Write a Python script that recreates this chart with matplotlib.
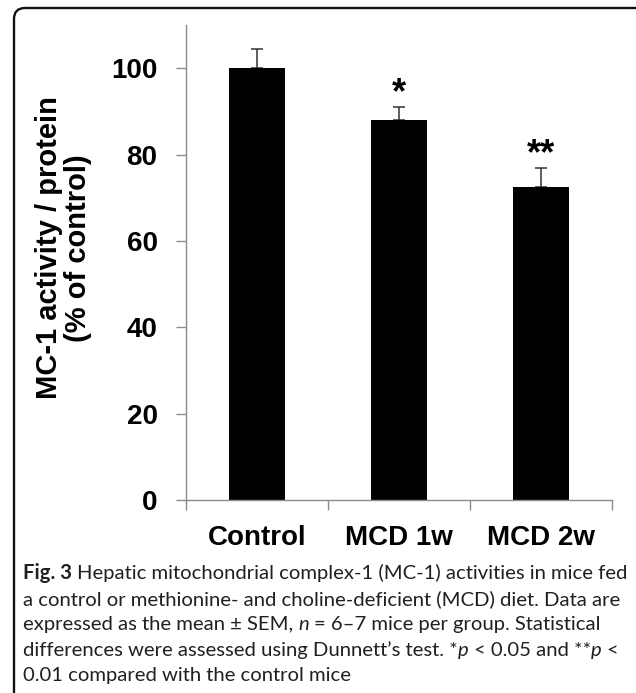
import numpy as np
import matplotlib
matplotlib.use('Agg')
import matplotlib.pyplot as plt
from matplotlib.patches import FancyBboxPatch

# Data
groups = ['Control', 'MCD 1w', 'MCD 2w']
activity = [100.0, 88.0, 72.5]
sem = [4.5, 2.9, 4.4]
stars = ['', '*', '**']

W, H = 636, 693
fig = plt.figure(figsize=(W / 100, H / 100), dpi=100)
plt.rcParams['font.family'] = ['Liberation Sans', 'DejaVu Sans']

# rounded frame around the figure (top and left edges visible)
frame = FancyBboxPatch((0.14, -0.3), 6.55, 6.85 + 0.3,
                       boxstyle='round,pad=0,rounding_size=0.11',
                       transform=fig.dpi_scale_trans, fill=False,
                       edgecolor='#111111', linewidth=1.7)
fig.patches.append(frame)

# axes placed in pixel terms
left, right, top, bottom = 186, 612, 25, 500
ax = fig.add_axes([left / W, (H - bottom) / H, (right - left) / W, (bottom - top) / H])

x = np.arange(len(groups))
ax.bar(x, activity, 0.4, color='black', zorder=2)
ax.errorbar(x, activity, yerr=[np.zeros(len(sem)), sem], fmt='none',
            ecolor='#333333', elinewidth=1.1, capsize=4.5, capthick=1.1, zorder=1)

for i, s in enumerate(stars):
    if s:
        ax.annotate(s, xy=(x[i], activity[i] + sem[i]), xytext=(0, 3),
                    textcoords='offset points', ha='center', va='baseline',
                    fontsize=26, fontweight='bold', color='black')

ax.set_xlim(-0.5, len(groups) - 0.5)
ax.set_ylim(0, 110)
ax.set_yticks(np.arange(0, 101, 20))
ax.set_xticks(x)
ax.set_xticklabels(groups)
ax.set_xticks(np.arange(-0.5, len(groups)), minor=True)

for sp in ['top', 'right']:
    ax.spines[sp].set_visible(False)
for sp in ['left', 'bottom']:
    ax.spines[sp].set_color('#8c8c8c')
    ax.spines[sp].set_linewidth(1.0)

ax.tick_params(axis='y', direction='out', length=7, width=1.0, color='#8c8c8c',
               pad=13.5, labelsize=20)
ax.tick_params(axis='x', which='major', length=0, pad=18, labelsize=20)
ax.tick_params(axis='x', which='minor', direction='out', length=7, width=1.0,
               color='#8c8c8c')
for lab in ax.get_xticklabels() + ax.get_yticklabels():
    lab.set_fontweight('bold')

fig.text(63.5 / W, 1 - 248 / H, 'MC-1 activity / protein\n(% of control)',
         rotation=90, ha='center', va='center', multialignment='center',
         fontsize=21, fontweight='bold', linespacing=1.08)

# caption
cap_lines = [
    [('Fig. 3', 'bold'), (' Hepatic mitochondrial complex-1 (MC-1) activities in mice fed', 'normal')],
    [('a control or methionine- and choline-deficient (MCD) diet. Data are', 'normal')],
    [('expressed as the mean ± SEM, ', 'normal'), ('n', 'italic'),
     (' = 6–7 mice per group. Statistical', 'normal')],
    [('differences were assessed using Dunnett’s test. *', 'normal'), ('p', 'italic'),
     (' < 0.05 and **', 'normal'), ('p', 'italic'), (' <', 'normal')],
    [('0.01 compared with the control mice', 'normal')],
]
baselines = [579, 605, 630, 656, 681]
cap_font = ['Lato', 'DejaVu Sans']
renderer = fig.canvas.get_renderer()


def seg_props(style, size):
    return dict(fontsize=size, family=cap_font, color='#231f20',
                fontweight='bold' if style == 'bold' else 'normal',
                fontstyle='italic' if style == 'italic' else 'normal')


def text_width(s, style, size):
    t = fig.text(0, 0, s, **seg_props(style, size))
    w = t.get_window_extent(renderer).width
    t.remove()
    return w


def line_width(segs, size):
    sp = text_width('a a', 'normal', size) - text_width('aa', 'normal', size)
    total = 0
    for s, st in segs:
        core = s.strip(' ')
        lead = len(s) - len(s.lstrip(' '))
        trail = len(s) - len(s.rstrip(' '))
        total += (lead + trail) * sp + (text_width(core, st, size) if core else 0)
    return total


base = 12
size = base * 603 / line_width(cap_lines[0], base)
space = text_width('a a', 'normal', size) - text_width('aa', 'normal', size)

for segs, yb in zip(cap_lines, baselines):
    xp = 23
    for s, st in segs:
        core = s.strip(' ')
        lead = len(s) - len(s.lstrip(' '))
        trail = len(s) - len(s.rstrip(' '))
        xp += lead * space
        if core:
            t = fig.text(xp / W, 1 - yb / H, core, va='baseline', ha='left',
                         **seg_props(st, size))
            xp += t.get_window_extent(renderer).width
        xp += trail * space

fig.savefig('out.png', dpi=100)
